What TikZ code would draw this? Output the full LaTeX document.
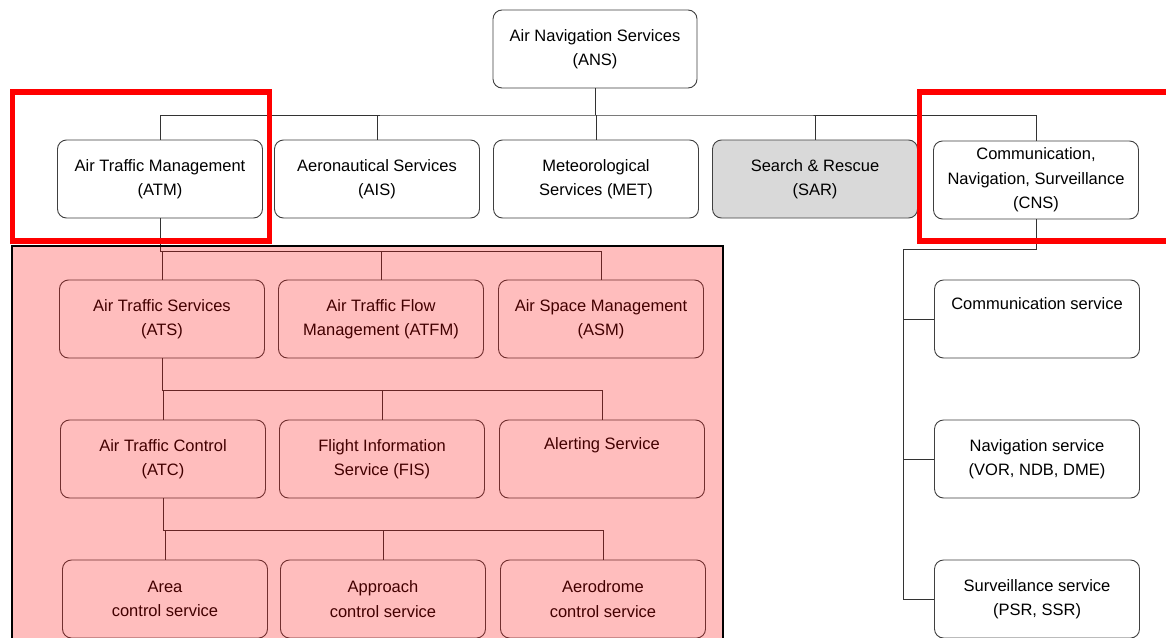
\documentclass[tikz,border=0pt]{standalone}
\usepackage{fontspec}
\setmainfont{Liberation Sans}

\begin{document}
\begin{tikzpicture}[
    x=1pt, y=-1pt,
    svcbox/.style={
        rectangle, rounded corners=9pt,
        fill=white, draw=black!75, line width=0.9pt,
        minimum width=205pt, minimum height=78pt, inner sep=0pt,
        align=center, font=\fontsize{16.5}{24.5}\selectfont
    },
    link/.style={draw=black!80, line width=0.9pt},
    redframe/.style={draw=red, line width=5.5pt}
]

%% ── Page frame ─────────────────────────────────────────────────────
\clip (0,0) rectangle (1166,637);
\fill[white] (0,0) rectangle (1166,637);

%% ── Boxes ──────────────────────────────────────────────────────────
\node[svcbox, minimum width=204pt] (ans) at (595,49)
    {Air Navigation Services\\(ANS)};

%% second row
\node[svcbox] (atm) at (160,179) {Air Traffic Management\\(ATM)};
\node[svcbox] (ais) at (377,179) {Aeronautical Services\\(AIS)};
\node[svcbox] (met) at (596,179) {Meteorological\\Services (MET)};
\node[svcbox, fill=gray!30] (sar) at (815,179) {Search \& Rescue\\(SAR)};
\node[svcbox] (cns) at (1036,180)
    {Communication,\\Navigation, Surveillance\\(CNS)};

%% ATM branch
\node[svcbox] (ats)  at (162,319) {Air Traffic Services\\(ATS)};
\node[svcbox] (atfm) at (381,319) {Air Traffic Flow\\Management (ATFM)};
\node[svcbox] (asm)  at (601,319) {Air Space Management\\(ASM)};

\node[svcbox] (atc)  at (163,459) {Air Traffic Control\\(ATC)};
\node[svcbox] (fis)  at (382,459) {Flight Information\\Service (FIS)};
\node[svcbox] (alrt) at (602,459) {Alerting Service\\\strut};

\node[svcbox] (area) at (165,599) {Area\\control service};
\node[svcbox] (appr) at (383,599) {Approach\\control service};
\node[svcbox] (aero) at (603,599) {Aerodrome\\control service};

%% CNS branch
\node[svcbox] (comm) at (1037,319) {Communication service\\\strut};
\node[svcbox] (nav)  at (1037,459) {Navigation service\\(VOR, NDB, DME)};
\node[svcbox] (surv) at (1037,599) {Surveillance service\\(PSR, SSR)};

%% ── Connectors ─────────────────────────────────────────────────────
\coordinate (busTop) at (595,115);
\coordinate (busAtm) at (163,251);
\coordinate (busAts) at (163,390);
\coordinate (busAtc) at (165,530);
\coordinate (cnsTrunk) at (903,249);

\draw[link] (ans.south) -- (busTop);
\draw[link] (atm.north) |- (busTop) -| (cns.north);
\foreach \n in {ais,met,sar}
    \draw[link] (\n.north) -- (\n.north |- busTop);

\draw[link] (atm.south) -- (atm.south |- busAtm) -| (asm.north);
\foreach \n in {ats,atfm}
    \draw[link] (\n.north) -- (\n.north |- busAtm);

\draw[link] (ats.south) -- (ats.south |- busAts) -| (alrt.north);
\foreach \n in {atc,fis}
    \draw[link] (\n.north) -- (\n.north |- busAts);

\draw[link] (atc.south) -- (atc.south |- busAtc) -| (aero.north);
\foreach \n in {area,appr}
    \draw[link] (\n.north) -- (\n.north |- busAtc);

\draw[link] (cns.south) |- (cnsTrunk) |- (surv.west);
\foreach \n in {comm,nav}
    \draw[link] (\n.west) -- (\n.west -| cnsTrunk);

%% ── ATM area (pink overlay) ────────────────────────────────────────
\fill[red, fill opacity=0.26] (12,246) rectangle (723,660);
\draw[black, line width=1.2pt] (12,246) rectangle (723,660);

%% ── Red highlight frames ───────────────────────────────────────────
\draw[redframe] (12.5,92) rectangle (269.5,241);
\draw[redframe] (919.5,92) rectangle (1185,241);

\end{tikzpicture}
\end{document}
